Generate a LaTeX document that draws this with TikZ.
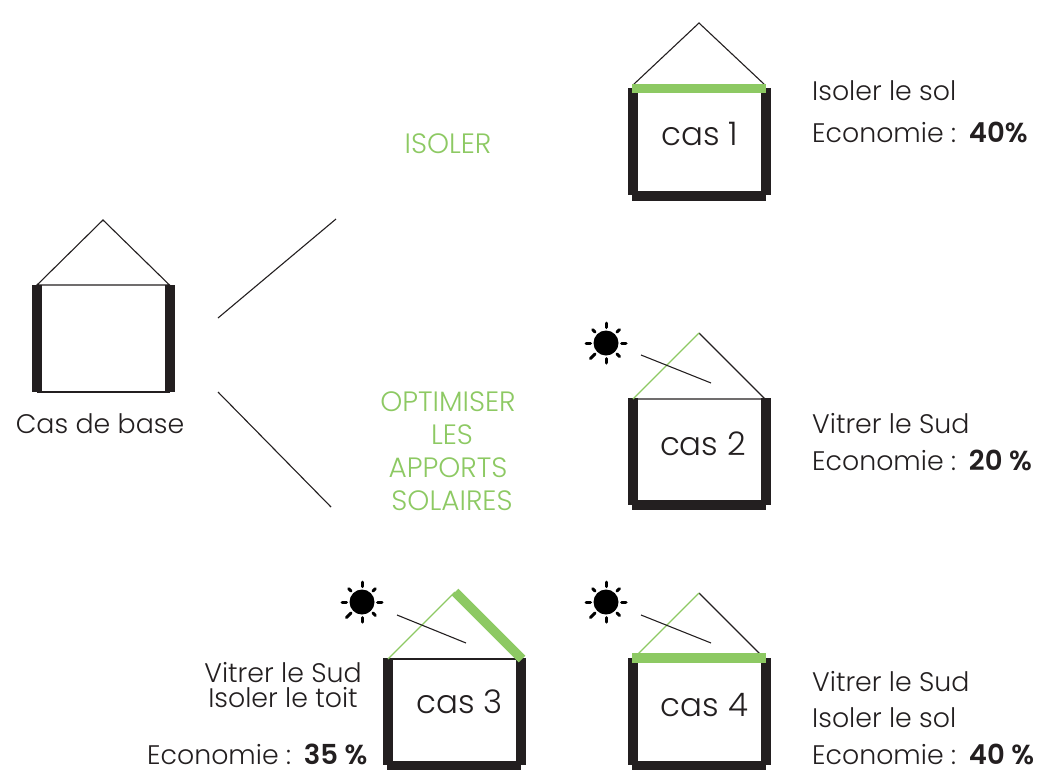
\documentclass[tikz,border=0pt]{standalone}
\usepackage{fontspec}
\setmainfont{Poppins}[UprightFont=* Light,BoldFont=* SemiBold]
\definecolor{wallk}{HTML}{231F20}
\definecolor{leaf}{HTML}{8DC963}
\tikzset{
  thin line/.style={draw=wallk,line width=1.1pt},
  glass line/.style={draw=leaf,line width=1.1pt},
  wall/.style={draw=wallk,line width=10pt},
  green band/.style={draw=leaf,line width=9.5pt},
  ray/.style={draw=black,line width=3pt,line cap=round},
  label/.style={inner sep=0pt,anchor=base west,font=\fontsize{26.8}{30}\selectfont,text=wallk},
  leftlabel/.style={label,anchor=base},
  greentext/.style={label,anchor=base,text=leaf,font=\fontsize{28}{30}\selectfont},
  caslabel/.style={label,anchor=base,font=\fontsize{32.5}{36}\selectfont},
}
\newcommand{\gapb}[1]{\hspace{13pt}\textbf{\fontsize{27.5}{30}\selectfont #1}}
% #1 name, #2 wall left centre x, #3 top y, #4 bottom y
\newcommand{\walls}[4]{%
  \coordinate (#1tl) at (#2,#3);
  \coordinate (#1bl) at (#2,#4);
  \coordinate (#1tr) at ({#2+133},#3);
  \coordinate (#1br) at ({#2+133},#4);
  \draw[wall] (#1tl) -- (#1bl);
  \draw[wall] (#1tr) -- (#1br);
}
% #1 name, #2 centre x, #3 centre y
\newcommand{\sunicon}[3]{%
  \node[circle,fill=black,minimum size=25pt,inner sep=0pt] (#1) at (#2,#3) {};
  \foreach \a/\r in {0/20,45/19,90/20,135/22,180/20,225/19,270/20,315/19}
    \draw[ray] ([shift={(\a:15.5)}]#1.center) -- ([shift={(\a:\r)}]#1.center);
}
\begin{document}
\begin{tikzpicture}[x=1pt,y=-1pt]
\useasboundingbox (0,0) rectangle (1042,769);
\clip (0,0) rectangle (1042,769);

% ---- base case
\walls{b}{37}{285}{392}
\coordinate (bA) at (103,220);
\coordinate (bL) at (37,285);
\coordinate (bR) at (169.5,285);
\draw[thin line] (bL) -- (bA) -- (bR) -- cycle;
\draw[thin line] (37,392) -- (170,392);
\node[leftlabel] (basetxt) at (100,433) {Cas de base};

% ---- branches
\coordinate (s1) at (218,318);
\coordinate (e1) at (336,219);
\coordinate (s2) at (218,392);
\coordinate (e2) at (331,507);
\draw[thin line] (s1) -- (e1);
\draw[thin line] (s2) -- (e2);

\node[greentext] (isoler) at (448,153) {ISOLER};
\node[greentext] (opt1) at (448,411.5) {OPTIMISER};
\node[greentext] (opt2) at (452,444.5) {LES};
\node[greentext] (opt3) at (448,477.5) {APPORTS};
\node[greentext] (opt4) at (452,510.5) {SOLAIRES};

% ---- cas 1
\walls{a}{633}{88}{195}
\draw[wall] (632,195.5) -- (766,195.5);
\coordinate (aA) at (699,23);
\coordinate (aL) at (633,85);
\coordinate (aR) at (765,85);
\draw[thin line] (aL) -- (aA) -- (aR);
\draw[green band] (632,88.5) -- (766,88.5);
\node[caslabel] (c1) at (700,145) {cas 1};
\node[label] (t1a) at (812,100) {Isoler le sol};
\node[label] (t1b) at (812,142) {Economie :\gapb{40\%}};

% ---- cas 2
\walls{d}{633}{398}{505}
\draw[wall] (632,505) -- (766,505);
\coordinate (dA) at (699,333);
\coordinate (dL) at (633,399);
\coordinate (dR) at (765,399);
\draw[thin line] (dL) -- (dR) -- (dA);
\draw[glass line] (dL) -- (dA);
\sunicon{dS}{606}{343}
\coordinate (dr1) at (641,355);
\coordinate (dr2) at (711,383);
\draw[thin line] (dr1) -- (dr2);
\node[caslabel] (c2) at (703,455) {cas 2};
\node[label] (t2a) at (812,433) {Vitrer le Sud};
\node[label] (t2b) at (812,470) {Economie :\gapb{20 \%}};

% ---- cas 3
\walls{f}{388}{658}{765}
\draw[wall] (387,766) -- (521,766);
\coordinate (fA) at (455,592);
\coordinate (fL) at (388,659);
\coordinate (fR) at (522,659);
\draw[thin line] (fL) -- (fR);
\draw[glass line] (fL) -- (fA);
\draw[green band] (fA) -- (fR);
\sunicon{fS}{362}{602}
\coordinate (fr1) at (397,615);
\coordinate (fr2) at (466,643);
\draw[thin line] (fr1) -- (fr2);
\node[caslabel] (c3) at (459.5,713) {cas 3};
\node[leftlabel] (t3a) at (283,682) {Vitrer le Sud};
\node[leftlabel] (t3b) at (283,707) {Isoler le toit};
\node[label] (t3c) at (147,764) {Economie :\gapb{35 \%}};

% ---- cas 4
\walls{g}{633}{658}{765}
\draw[wall] (632,765.5) -- (766,765.5);
\coordinate (gA) at (699,593);
\coordinate (gL) at (633,659);
\coordinate (gR) at (765,659);
\draw[thin line] (gA) -- (gR);
\draw[glass line] (gL) -- (gA);
\draw[green band] (632,658) -- (766,658);
\sunicon{gS}{606}{602}
\coordinate (gr1) at (641,615);
\coordinate (gr2) at (711,643);
\draw[thin line] (gr1) -- (gr2);
\node[caslabel] (c4) at (704.5,716) {cas 4};
\node[label] (t4a) at (812,691) {Vitrer le Sud};
\node[label] (t4b) at (812,727) {Isoler le sol};
\node[label] (t4c) at (812,764) {Economie :\gapb{40 \%}};
\end{tikzpicture}
\end{document}
